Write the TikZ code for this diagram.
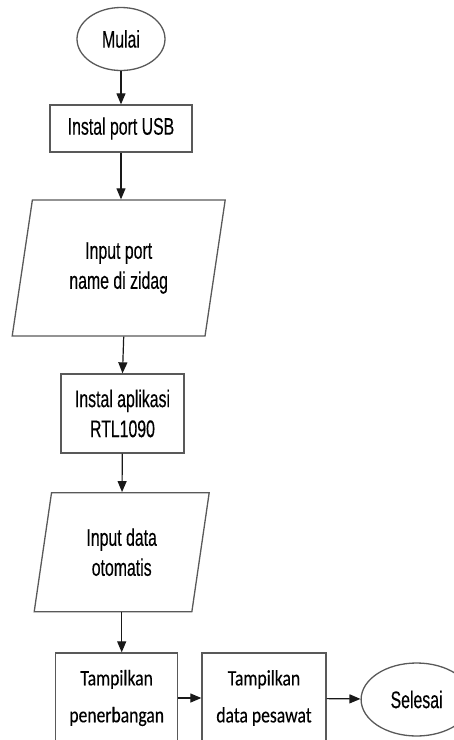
\documentclass[tikz,border=0pt]{standalone}
\usepackage{fontspec}
\setmainfont{Liberation Sans}[FakeStretch=0.66, FakeBold=0.3]
\newfontfamily\calfont{Carlito}[FakeStretch=0.8, FakeBold=0.3]
\usepackage{tikz}
\usetikzlibrary{arrows.meta,shapes.geometric}

\begin{document}
\begin{tikzpicture}[x=1pt, y=-1pt, every node/.style={draw=black!65, line width=1.3pt, align=center, inner sep=0pt}]
        \useasboundingbox (0,0) rectangle (454,740);
        \clip (0,0) rectangle (454,740);
        \tikzset{terminal/.style={ellipse, font=\fontsize{24}{30}\selectfont}}
        \tikzset{process/.style={rectangle, font=\fontsize{24}{30}\selectfont}}
        \tikzset{showbox/.style={rectangle, font=\calfont\fontsize{22}{37}\selectfont, minimum width=122pt, minimum height=90pt}}
        \tikzset{inout/.style={trapezium, trapezium stretches body=true, font=\fontsize{24}{30}\selectfont}}
        \node[terminal, minimum width=88pt, minimum height=63pt] (mulai) at (121, 39) {Mulai};
        \node[process, minimum width=142pt, minimum height=47pt] (usb) at (121, 128.5) {Instal port USB};
        \node[inout, trapezium left angle=68.6, trapezium right angle=111.4,
              minimum width=213pt, minimum height=136pt] (portname) at (118.7, 268) {Input port\\name di zidag};
        \node[process, minimum width=123pt, minimum height=79pt] (rtl) at (122.5, 413.5) {Instal aplikasi\\RTL1090};
        \node[inout, trapezium left angle=70, trapezium right angle=110,
              minimum width=175pt, minimum height=119pt] (otomatis) at (121.7, 552.2) {Input data\\otomatis};
        \node[showbox] (terbang) at (116.7, 698) {Tampilkan\\penerbangan};
        \node[showbox, minimum width=124pt] (pesawat) at (264, 698) {Tampilkan\\data pesawat};
        \node[terminal, minimum width=111pt, minimum height=73pt] (selesai) at (416.6, 699.5) {Selesai};
        % connectors
        \tikzset{flowline/.style={-{Triangle[length=11pt, width=9pt]}, draw=black!90, line width=1.2pt}}
        \draw[flowline] (mulai) -- (usb);
        \draw[flowline] (usb.south) -- (usb.south |- portname.north);
        \draw[flowline] ([xshift=5pt]portname.south) -- (rtl.north);
        \draw[flowline] (rtl) -- (otomatis);
        \draw[flowline] (otomatis.south) -- (otomatis.south |- terbang.north);
        \draw[flowline] (terbang) -- (pesawat);
        \draw[flowline] (pesawat) -- (selesai);
      \end{tikzpicture}
\end{document}
